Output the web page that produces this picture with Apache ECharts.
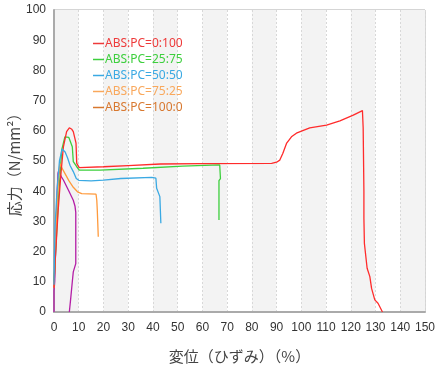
<!DOCTYPE html>
<html>
<head>
<meta charset="utf-8">
<script src="https://cdn.jsdelivr.net/npm/echarts@6/dist/echarts.min.js"></script>
<style>
  html, body { margin: 0; padding: 0; background: #fff; }
  #main { width: 435px; height: 365px; }
</style>
</head>
<body>
<div id="main"></div>
<script>
// legend names
var names = ['ABS:PC=0:100', 'ABS:PC=25:75', 'ABS:PC=50:50', 'ABS:PC=75:25', 'ABS:PC=100:0'];

// strain (%) / stress (N/mm2)
var strain0 = [0, 0.4, 1.7, 2.7, 3.8, 5.1, 6.2, 7.2, 7.8, 8.9, 9.2, 10.2, 20, 30, 43, 60, 88, 90, 91.3, 92.5, 94, 96, 98, 103.4, 110.2, 115.6, 121, 124.7, 125, 125.3, 125.3, 125.5, 126.6, 127.7, 128.4, 129.7, 131, 132.8];
var stress0 = [8, 16, 33.8, 44.8, 54.7, 59.7, 61, 60.5, 59.7, 55.9, 49.2, 47.8, 48.1, 48.5, 49, 49.1, 49.2, 49.6, 50.3, 52.5, 55.8, 58, 59.2, 61, 61.9, 63.3, 65.2, 66.7, 61, 40, 31, 22.7, 14.5, 11.7, 7.8, 4, 2.9, 0];

var strain25 = [0, 0.4, 1.7, 3.1, 4.4, 5, 6, 7.4, 7.8, 9.2, 10.2, 18.6, 36, 52, 67, 67.3, 66.7, 66.7];
var stress25 = [10, 16, 36, 53.6, 58, 58.5, 57.8, 54.7, 49.8, 48.1, 47, 47, 47.6, 48.3, 48.7, 44.2, 43.5, 30.5];

var strain50 = [0, 0.4, 1.2, 2.2, 3.3, 4.5, 5.5, 6.5, 7.8, 9, 10, 15, 20, 27, 39.5, 41.2, 41.5, 42.8, 43.2];
var stress50 = [9, 28, 40, 50, 54, 53, 51, 48.5, 46.5, 44.2, 43.6, 43.4, 43.7, 44.2, 44.6, 44.3, 41, 38.2, 29.4];

var strain75 = [0, 0.5, 1.2, 2, 2.4, 3, 4.4, 6, 7.8, 9.5, 11.2, 17, 17.3, 17.5, 17.9];
var stress75 = [8, 20, 35, 46, 49.2, 48, 45.9, 43.5, 41.3, 39.8, 39.2, 39, 37, 33.8, 24.9];

var strain100 = [0, 0, 0.3, 0.8, 1.2, 1.6, 2, 2.8, 3.8, 5.8, 7.8, 8.5, 8.8, 8.8, 7.8, 7.4, 6.7, 6.2];
var stress100 = [0, 7, 10, 25, 38, 46, 47, 45, 43.7, 40.4, 37, 35, 33, 16, 13.3, 10, 4, 0];

var lineColors = ['#ff2b2b', '#3dcf3d', '#3aa9e3', '#ff9a3c', '#b41ea6'];
var legendColors = ['#ee3a3a', '#3dcf3d', '#3aa9e3', '#f9a85c', '#d8782f'];

function zip(xs, ys) {
    var out = [];
    for (var i = 0; i < xs.length; i++) out.push([xs[i], ys[i]]);
    return out;
}

var seriesData = [
    zip(strain0, stress0),
    zip(strain25, stress25),
    zip(strain50, stress50),
    zip(strain75, stress75),
    zip(strain100, stress100)
];

// draw order: magenta underneath, blue on top in the rising part
var zOrder = [3, 2, 4, 2, 1];

var series = [];
var legendData = [];
for (var i = 0; i < names.length; i++) {
    series.push({
        name: names[i],
        type: 'line',
        showSymbol: false,
        z: zOrder[i],
        data: seriesData[i],
        itemStyle: { color: lineColors[i] },
        lineStyle: { width: 1.3, color: lineColors[i] },
        animation: false
    });
    legendData.push({
        name: names[i],
        itemStyle: { color: legendColors[i] },
        textStyle: { color: legendColors[i] }
    });
}

var chart = echarts.init(document.getElementById('main'));
chart.setOption({
    backgroundColor: '#fff',
    grid: {
        left: 54, right: 10, top: 10, bottom: 53,
        outerBoundsMode: 'none',
        containLabel: false,
        show: true, borderColor: '#aaa', borderWidth: 1
    },
    legend: {
        orient: 'vertical',
        left: 88,
        top: 32,
        icon: 'rect',
        itemWidth: 11,
        itemHeight: 1.5,
        itemGap: 3,
        textStyle: { fontSize: 12, fontFamily: 'Noto Sans', lineHeight: 13, padding: [0, 0, 0, -4] },
        data: legendData
    },
    xAxis: {
        type: 'value',
        min: 0, max: 150, interval: 10,
        name: '変位（ひずみ）（%）',
        nameLocation: 'middle',
        nameGap: 37,
        nameTextStyle: { fontSize: 15, color: '#444', fontFamily: 'Noto Sans CJK JP' },
        axisLine: { show: true, lineStyle: { color: '#aaa', width: 2 } },
        axisTick: { show: false },
        axisLabel: { color: '#333', fontSize: 12, margin: 10, fontFamily: 'Liberation Sans' },
        splitLine: { show: true, lineStyle: { color: '#d8d8d8', type: [2, 2] } },
        splitArea: { show: true, areaStyle: { color: ['#f3f3f3', '#ffffff'] } }
    },
    yAxis: {
        type: 'value',
        min: 0, max: 100, interval: 10,
        name: '応力（N/mm²）',
        nameLocation: 'middle',
        nameGap: 32,
        nameMoveOverlap: false,
        nameRotate: 90,
        nameTextStyle: { fontSize: 15, color: '#444', fontFamily: 'Noto Sans CJK JP' },
        axisLine: { show: true, lineStyle: { color: '#aaa', width: 2 } },
        axisTick: { show: false },
        axisLabel: { color: '#333', fontSize: 12, margin: 8, fontFamily: 'Liberation Sans' },
        splitLine: { show: true, lineStyle: { color: '#d8d8d8', type: [2, 2] } }
    },
    series: series
});
</script>
</body>
</html>
